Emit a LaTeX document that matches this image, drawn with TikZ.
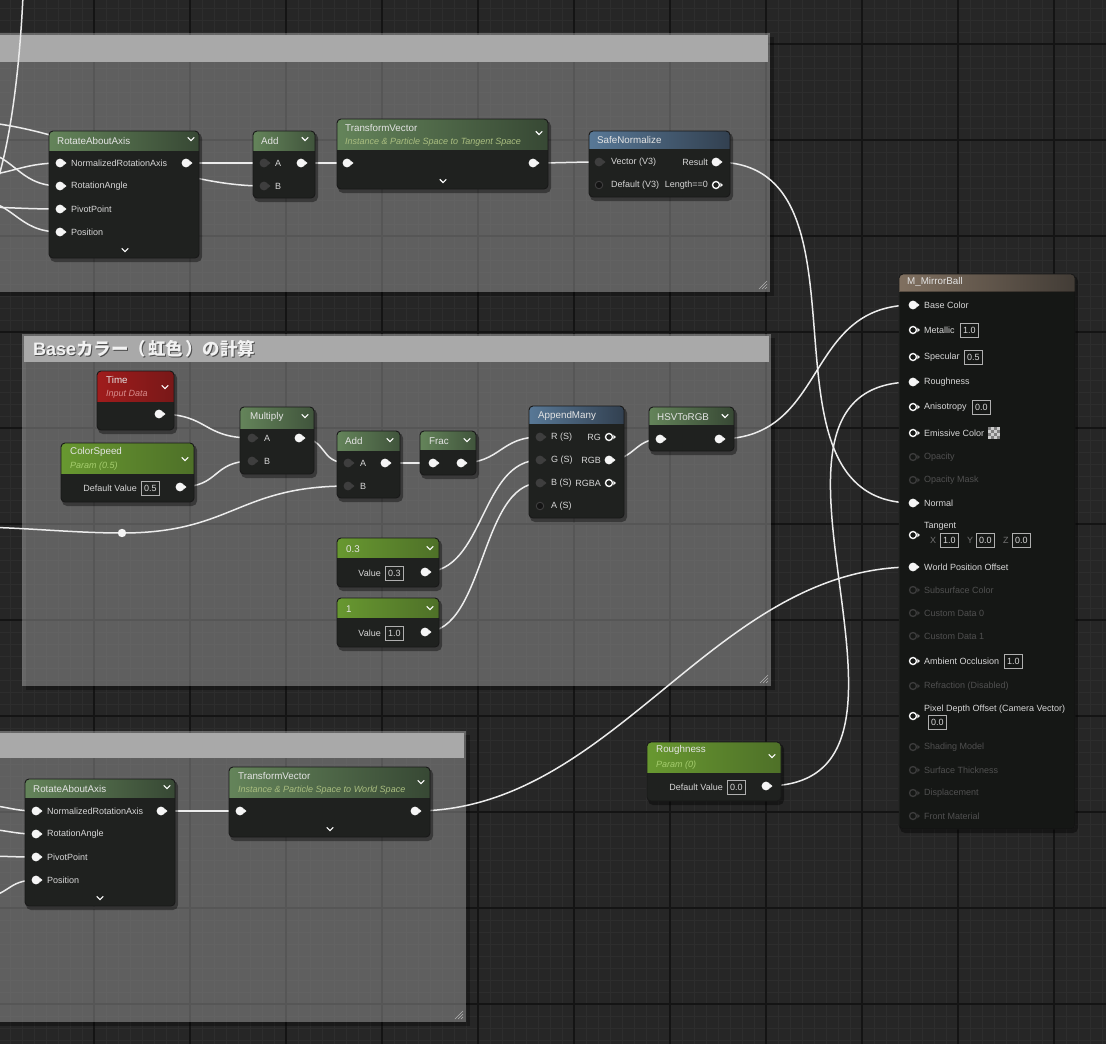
\documentclass[tikz,border=0pt]{standalone}
\usepackage{fontspec}
\setmainfont{Liberation Sans}
\newfontfamily\cjk{Noto Sans CJK JP}
\definecolor{bgc}{RGB}{38,38,38}
\definecolor{gminor}{RGB}{45,45,45}
\definecolor{gmajor}{RGB}{20,20,20}
\definecolor{cmthdr}{RGB}{169,169,169}
\definecolor{nbodyc}{RGB}{31,33,31}
\definecolor{wirec}{RGB}{236,236,236}
\definecolor{txt}{RGB}{215,215,215}
\definecolor{ttltxt}{RGB}{228,228,228}
\definecolor{dimtxt}{RGB}{80,80,80}
\definecolor{xyztxt}{RGB}{115,115,115}
\definecolor{boxc}{RGB}{175,175,175}
\definecolor{pinw}{RGB}{245,245,245}
\definecolor{pind}{RGB}{62,62,62}
\definecolor{pinx}{RGB}{60,60,60}
\definecolor{fnL}{RGB}{100,132,90}
\definecolor{fnR}{RGB}{55,72,52}
\definecolor{parL}{RGB}{104,152,48}
\definecolor{parM}{RGB}{48,74,26}
\definecolor{parR}{RGB}{78,112,40}
\definecolor{timL}{RGB}{160,28,28}
\definecolor{timM}{RGB}{88,16,16}
\definecolor{timR}{RGB}{120,24,24}
\definecolor{bluL}{RGB}{88,120,150}
\definecolor{bluR}{RGB}{50,64,80}
\definecolor{mbL}{RGB}{128,112,96}
\definecolor{mbR}{RGB}{66,60,54}
\definecolor{subgrn}{RGB}{170,190,128}
\definecolor{subpar}{RGB}{165,205,110}
\definecolor{subred}{RGB}{215,140,140}
\tikzset{
  nbody/.style={fill=nbodyc, rounded corners=4pt, inner sep=0pt, outer sep=0pt, draw=none},
  nborder/.style={draw=black!90, line width=0.9pt},
  wire/.style={draw=wirec, line width=1.5pt},
  lbl/.style={font=\fontsize{9}{10}\selectfont, text=txt, inner sep=0pt, anchor=west},
  lblr/.style={lbl, anchor=east},
  dimlbl/.style={lbl, text=dimtxt},
  ttl/.style={font=\fontsize{9.8}{11}\selectfont, text=ttltxt, inner sep=0pt, anchor=west},
  sublbl/.style={font=\fontsize{9}{10}\selectfont\itshape, inner sep=0pt, anchor=west},
  vbx/.style={draw=boxc, line width=0.8pt, inner xsep=2.6pt, inner ysep=0pt, minimum height=14pt, text=txt, font=\fontsize{9}{10}\selectfont, anchor=west},
  chv/.style={draw=white, line width=1.2pt},
}
% node: name, x1, y1, x2, y2, header bottom, left, middle, right
\newcommand\uen[9]{%
  \fill[black,opacity=0.4,rounded corners=5pt] (#2+1,#3+2) rectangle (#4+3,#5+4);
  \node[nbody, minimum width=#4-#2, minimum height=#5-#3] (#1) at ({(#2+#4)/2},{(#3+#5)/2}) {};
  \begin{scope}
    \clip[rounded corners=4pt] (#2,#3) rectangle (#4,#5);
    \shade[left color=#7, middle color=#8, right color=#9] (#2,#3) rectangle (#4,#6);
  \end{scope}
  \draw[nborder, rounded corners=4pt] (#2,#3) rectangle (#4,#5);
}
\newcommand\chev[2]{\draw[chv] (#1-3.2,#2-1.6) -- (#1,#2+1.6) -- (#1+3.2,#2-1.6);}
\newcommand\pinF[1]{\begin{scope}[shift={(#1)}]\fill[pinw] (0,0) circle (4.4pt);\fill[pinw] (3.6,-2.4) -- (6.5,0) -- (3.6,2.4) -- cycle;\end{scope}}
\newcommand\pinH[1]{\begin{scope}[shift={(#1)}]\draw[pinw, line width=1.4pt] (0,0) circle (3.5pt);\fill[pinw] (4.4,-2.3) -- (6.8,0) -- (4.4,2.3) -- cycle;\end{scope}}
\newcommand\pinD[1]{\begin{scope}[shift={(#1)}]\fill[pind] (0,0) circle (4.4pt);\fill[pind] (3.6,-2.4) -- (6.5,0) -- (3.6,2.4) -- cycle;\end{scope}}
\newcommand\pinK[1]{\begin{scope}[shift={(#1)}]\fill[black!92] (0,0) circle (4.4pt);\draw[pind, line width=1pt] (0,0) circle (3.8pt);\end{scope}}
\newcommand\pinX[1]{\begin{scope}[shift={(#1)}]\draw[pinx, line width=1.3pt] (0,0) circle (3.5pt);\fill[pinx] (4.4,-2.3) -- (6.8,0) -- (4.4,2.3) -- cycle;\end{scope}}
\newcommand\wire[3]{\draw[wire] (#1) .. controls +(#3,0) and +(-#3,0) .. (#2);}
\newcommand\hatch[2]{\draw[white!70!black, line width=0.6pt] (#1,#2-8) -- (#1-8,#2) (#1,#2-5) -- (#1-5,#2) (#1,#2-2) -- (#1-2,#2);}
\begin{document}
\begin{tikzpicture}[x=1pt,y=-1pt]
\useasboundingbox (0,0) rectangle (1106,1044);
\clip (0,0) rectangle (1106,1044);
% ---------- background grid ----------
\fill[bgc] (0,0) rectangle (1106,1044);
\foreach \x in {10,22,...,1102} \draw[gminor, line width=0.8pt] (\x,0) -- (\x,1044);
\foreach \y in {8,20,...,1040} \draw[gminor, line width=0.8pt] (0,\y) -- (1106,\y);
\foreach \x in {-2,94,...,1054} \draw[gmajor, line width=1.6pt] (\x,0) -- (\x,1044);
\foreach \y in {44,140,...,1004} \draw[gmajor, line width=1.6pt] (0,\y) -- (1106,\y);
% ---------- comment boxes ----------
\fill[black,opacity=0.3] (-5,37) rectangle (774,296);
\fill[white,opacity=0.3] (-5,33) rectangle (770,292);
\fill[cmthdr] (-5,35) rectangle (768,62);
\hatch{767}{289}
\fill[black,opacity=0.3] (26,338) rectangle (775,690);
\fill[white,opacity=0.3] (22,334) rectangle (771,686);
\fill[cmthdr] (24,336) rectangle (769,362);
\hatch{768}{683}
\node[anchor=west, inner sep=0pt, text=black, opacity=0.55, font=\fontsize{18}{20}\selectfont\bfseries] at (34,350) {Base{\cjk\fontsize{17.5}{20}\selectfont カラー（\kern2pt 虹色\kern2pt ）の計算}};
\node (cmt2title) [anchor=west, inner sep=0pt, text=white!95!black, font=\fontsize{18}{20}\selectfont\bfseries] at (33,349) {Base{\cjk\fontsize{17.5}{20}\selectfont カラー（\kern2pt 虹色\kern2pt ）の計算}};
\fill[black,opacity=0.3] (-5,735) rectangle (470,1026);
\fill[white,opacity=0.3] (-5,731) rectangle (466,1022);
\fill[cmthdr] (-5,733) rectangle (464,758);
\hatch{463}{1019}
% ---------- pin coordinates ----------
\coordinate (raa1nra) at (60,163);
\coordinate (raa1ra) at (60,186);
\coordinate (raa1pp) at (60,209);
\coordinate (raa1pos) at (60,232);
\coordinate (raa1out) at (186,163);
\coordinate (add1a) at (264,163);
\coordinate (add1b) at (264,186);
\coordinate (add1out) at (301,163);
\coordinate (tv1in) at (347,163);
\coordinate (tv1out) at (533,163);
\coordinate (snvec) at (599,162);
\coordinate (sndef) at (599,185);
\coordinate (snres) at (716,162);
\coordinate (snlen) at (716,185);
\coordinate (timeout) at (159,414);
\coordinate (csout) at (180,487);
\coordinate (mula) at (252,438);
\coordinate (mulb) at (252,461);
\coordinate (mulout) at (299,438);
\coordinate (add2a) at (348,463);
\coordinate (add2b) at (348,486);
\coordinate (add2out) at (385,463);
\coordinate (fracin) at (433,463);
\coordinate (fracout) at (461,463);
\coordinate (amr) at (540,437);
\coordinate (amg) at (540,460);
\coordinate (amb) at (540,483);
\coordinate (ama) at (540,506);
\coordinate (amrg) at (609,437);
\coordinate (amrgb) at (609,460);
\coordinate (amrgba) at (609,483);
\coordinate (hsvin) at (660,439);
\coordinate (hsvout) at (719,439);
\coordinate (cAout) at (425,572);
\coordinate (cBout) at (425,632);
\coordinate (rrt) at (122,533);
\coordinate (raa2nra) at (36,811);
\coordinate (raa2ra) at (36,834);
\coordinate (raa2pp) at (36,857);
\coordinate (raa2pos) at (36,880);
\coordinate (raa2out) at (161,811);
\coordinate (tv2in) at (240,811);
\coordinate (tv2out) at (415,811);
\coordinate (rpout) at (766,786);
\coordinate (mbbase) at (913,305);
\coordinate (mbmetal) at (913,330);
\coordinate (mbspec) at (913,357);
\coordinate (mbrough) at (913,382);
\coordinate (mbaniso) at (913,407);
\coordinate (mbemis) at (913,433);
\coordinate (mbopac) at (913,457);
\coordinate (mbopm) at (913,480);
\coordinate (mbnormal) at (913,503);
\coordinate (mbtan) at (913,535);
\coordinate (mbwpo) at (913,567);
\coordinate (mbssc) at (913,590);
\coordinate (mbcd0) at (913,613);
\coordinate (mbcd1) at (913,636);
\coordinate (mbao) at (913,661);
\coordinate (mbrefr) at (913,686);
\coordinate (mbpdo) at (913,716);
\coordinate (mbsm) at (913,747);
\coordinate (mbst) at (913,770);
\coordinate (mbdisp) at (913,793);
\coordinate (mbfm) at (913,816);
% off-screen sources
\coordinate (srcV) at (23,-4);
\coordinate (srcVe) at (-6,192);
\coordinate (srcB) at (-40,121);
\coordinate (src1) at (-30,176);
\coordinate (src2) at (-30,150);
\coordinate (src3) at (-30,207);
\coordinate (src4) at (-30,199);
\coordinate (srcR) at (-30,527);
\coordinate (src5) at (-20,805);
\coordinate (src6) at (-20,829);
\coordinate (src7) at (-20,856);
\coordinate (src8) at (-20,897);
% ---------- wires ----------
\draw[wire] (srcV) .. controls (20,60) and (12,140) .. (srcVe);
\draw[wire] (srcB) .. controls (60,121) and (160,186) .. (add1b);
\wire{src1}{raa1nra}{40}
\wire{src2}{raa1ra}{45}
\wire{src3}{raa1pp}{40}
\wire{src4}{raa1pos}{45}
\wire{raa1out}{add1a}{30}
\wire{add1out}{tv1in}{20}
\wire{tv1out}{snvec}{25}
\wire{snres}{mbnormal}{170}
\wire{srcR}{rrt}{50}
\wire{rrt}{add2b}{110}
\wire{timeout}{mula}{50}
\wire{csout}{mulb}{40}
\wire{mulout}{add2a}{30}
\wire{add2out}{fracin}{20}
\wire{fracout}{amr}{40}
\wire{cAout}{amg}{60}
\wire{cBout}{amb}{60}
\wire{amrgb}{hsvin}{25}
\wire{hsvout}{mbbase}{110}
\wire{rpout}{mbrough}{200}
\wire{src5}{raa2nra}{25}
\wire{src6}{raa2ra}{25}
\wire{src7}{raa2pp}{25}
\wire{src8}{raa2pos}{30}
\wire{raa2out}{tv2in}{30}
\wire{tv2out}{mbwpo}{200}
% ---------- top group nodes ----------
\uen{raa1}{49}{131}{199}{258}{150}{fnL}{fnL!80!fnR}{fnR}
\node[ttl] at (57,141) {RotateAboutAxis};
\chev{191}{139}\chev{125}{250}
\node[lbl] at (71,163) {NormalizedRotationAxis};
\node[lbl] at (71,186) {RotationAngle};
\node[lbl] at (71,209) {PivotPoint};
\node[lbl] at (71,232) {Position};
\pinF{raa1nra}\pinF{raa1ra}\pinF{raa1pp}\pinF{raa1pos}\pinF{raa1out}
\uen{add1}{253}{131}{315}{198}{150}{fnL}{fnR}{fnR!80!fnL}
\node[ttl] at (261,141) {Add};
\chev{305}{139}
\node[lbl] at (275,163) {A};
\node[lbl] at (275,186) {B};
\pinD{add1a}\pinD{add1b}\pinF{add1out}
\uen{tv1}{337}{119}{548}{189}{149}{fnL}{fnL!55!fnR}{fnR}
\node[ttl] at (345,128) {TransformVector};
\node[sublbl, text=subgrn] at (345,142) {Instance \& Particle Space to Tangent Space};
\chev{539}{133}\chev{443}{181}
\pinF{tv1in}\pinF{tv1out}
\uen{sn}{589}{131}{730}{197}{148}{bluL}{bluL!60!bluR}{bluR}
\node[ttl] at (597,140) {SafeNormalize};
\node[lbl] at (611,162) {Vector (V3)};
\node[lbl] at (611,185) {Default (V3)};
\node[lblr] at (708,162) {Result};
\node[lblr] at (708,185) {Length==0};
\pinD{snvec}\pinK{sndef}\pinF{snres}\pinH{snlen}
% ---------- middle group nodes ----------
\uen{time}{97}{371}{174}{430}{401}{timL}{timM}{timR}
\node[ttl] at (106,380) {Time};
\node[sublbl, text=subred] at (106,394) {Input Data};
\chev{165}{387}
\pinF{timeout}
\uen{cspeed}{61}{443}{194}{502}{473}{parL}{parM}{parR}
\node[ttl] at (70,452) {ColorSpeed};
\node[sublbl, text=subpar] at (70,466) {Param (0.5)};
\chev{185}{459}
\node[lblr] at (137,488) {Default Value};
\node[vbx] (csval) at (141,488) {0.5};
\pinF{csout}
\uen{mul}{240}{407}{314}{474}{428}{fnL}{fnR}{fnR!80!fnL}
\node[ttl] at (250,417) {Multiply};
\chev{305}{416}
\node[lbl] at (264,438) {A};
\node[lbl] at (264,461) {B};
\pinD{mula}\pinD{mulb}\pinF{mulout}
\uen{add2}{337}{431}{400}{498}{450}{fnL}{fnR}{fnR!80!fnL}
\node[ttl] at (345,441) {Add};
\chev{390}{440}
\node[lbl] at (360,463) {A};
\node[lbl] at (360,486) {B};
\pinD{add2a}\pinD{add2b}\pinF{add2out}
\uen{frac}{420}{431}{476}{475}{449}{fnL}{fnR}{fnR!80!fnL}
\node[ttl] at (429,441) {Frac};
\chev{467}{440}
\pinF{fracin}\pinF{fracout}
\uen{am}{529}{406}{624}{518}{423}{bluL}{bluL!60!bluR}{bluR}
\node[ttl] at (538,416) {AppendMany};
\node[lbl] at (551,437) {R (S)};
\node[lbl] at (551,460) {G (S)};
\node[lbl] at (551,483) {B (S)};
\node[lbl] at (551,506) {A (S)};
\node[lblr] at (601,437) {RG};
\node[lblr] at (601,460) {RGB};
\node[lblr] at (601,483) {RGBA};
\pinD{amr}\pinD{amg}\pinD{amb}\pinK{ama}
\pinH{amrg}\pinF{amrgb}\pinH{amrgba}
\uen{hsv}{649}{407}{734}{451}{424}{fnL}{fnL!50!fnR}{fnR}
\node[ttl] at (657,417) {HSVToRGB};
\chev{725}{416}
\pinF{hsvin}\pinF{hsvout}
\uen{cA}{337}{538}{439}{587}{557}{parL}{parM}{parR}
\node[ttl] at (346,549) {0.3};
\chev{430}{548}
\node[lblr] at (381,573) {Value};
\node[vbx] (cAval) at (385,573) {0.3};
\pinF{cAout}
\uen{cB}{337}{598}{439}{647}{617}{parL}{parM}{parR}
\node[ttl] at (346,609) {1};
\chev{430}{608}
\node[lblr] at (381,633) {Value};
\node[vbx] (cBval) at (385,633) {1.0};
\pinF{cBout}
\fill[pinw] (rrt) circle (4.2pt);
% ---------- bottom group nodes ----------
\uen{raa2}{25}{779}{175}{906}{797}{fnL}{fnL!80!fnR}{fnR}
\node[ttl] at (33,789) {RotateAboutAxis};
\chev{167}{787}\chev{100}{898}
\node[lbl] at (47,811) {NormalizedRotationAxis};
\node[lbl] at (47,834) {RotationAngle};
\node[lbl] at (47,857) {PivotPoint};
\node[lbl] at (47,880) {Position};
\pinF{raa2nra}\pinF{raa2ra}\pinF{raa2pp}\pinF{raa2pos}\pinF{raa2out}
\uen{tv2}{229}{767}{430}{837}{797}{fnL}{fnL!55!fnR}{fnR}
\node[ttl] at (238,776) {TransformVector};
\node[sublbl, text=subgrn] at (238,790) {Instance \& Particle Space to World Space};
\chev{421}{782}\chev{330}{829}
\pinF{tv2in}\pinF{tv2out}
% ---------- roughness param ----------
\uen{rparam}{647}{742}{781}{801}{772}{parL}{parM}{parR}
\node[ttl] at (656,750) {Roughness};
\node[sublbl, text=subpar] at (656,765) {Param (0)};
\chev{772}{756}
\node[lblr] at (723,787) {Default Value};
\node[vbx] (rpval) at (727,787) {0.0};
\pinF{rpout}
% ---------- material node ----------
\uen{mb}{899}{274}{1075}{829}{291}{mbL}{mbL!60!mbR}{mbR}
\begin{scope}
\clip[rounded corners=4pt] (899,274) rectangle (1075,829);
\fill[black,opacity=0.3] (899.5,291) rectangle (1074.5,828.5);
\end{scope}
\node[ttl] at (907,282) {M\_MirrorBall};
\node[lbl] at (924,305) {Base Color};
\node[lbl] at (924,330) {Metallic};
\node[vbx] (vmetal) at (960,330) {1.0};
\node[lbl] at (924,357) {Specular};
\node[vbx] (vspec) at (964,357) {0.5};
\node[lbl] at (924,382) {Roughness};
\node[lbl] at (924,407) {Anisotropy};
\node[vbx] (vaniso) at (972,407) {0.0};
\node[lbl] at (924,433) {Emissive Color};
\begin{scope}[shift={(988,427)}]
\fill[white!80!black] (0,0) rectangle (12,12);
\foreach \a/\b in {0/0,6/0,3/3,9/3,0/6,6/6,3/9,9/9} \fill[white!50!black] (\a,\b) rectangle +(3,3);
\end{scope}
\node[dimlbl] at (924,457) {Opacity};
\node[dimlbl] at (924,480) {Opacity Mask};
\node[lbl] at (924,503) {Normal};
\node[lbl] at (924,526) {Tangent};
\node[lbl, text=xyztxt] at (930,540) {X};
\node[vbx] (vtx) at (940,540) {1.0};
\node[lbl, text=xyztxt] at (967,540) {Y};
\node[vbx] (vty) at (976,540) {0.0};
\node[lbl, text=xyztxt] at (1003,540) {Z};
\node[vbx] (vtz) at (1012,540) {0.0};
\node[lbl] at (924,567) {World Position Offset};
\node[dimlbl] at (924,590) {Subsurface Color};
\node[dimlbl] at (924,613) {Custom Data 0};
\node[dimlbl] at (924,636) {Custom Data 1};
\node[lbl] at (924,661) {Ambient Occlusion};
\node[vbx] (vao) at (1004,661) {1.0};
\node[dimlbl] at (924,686) {Refraction (Disabled)};
\node[lbl] at (924,709) {Pixel Depth Offset (Camera Vector)};
\node[vbx] (vpdo) at (928,722) {0.0};
\node[dimlbl] at (924,747) {Shading Model};
\node[dimlbl] at (924,770) {Surface Thickness};
\node[dimlbl] at (924,793) {Displacement};
\node[dimlbl] at (924,816) {Front Material};
\pinF{mbbase}\pinH{mbmetal}\pinH{mbspec}\pinF{mbrough}\pinH{mbaniso}\pinH{mbemis}
\pinX{mbopac}\pinX{mbopm}\pinF{mbnormal}\pinH{mbtan}\pinF{mbwpo}
\pinX{mbssc}\pinX{mbcd0}\pinX{mbcd1}\pinH{mbao}\pinX{mbrefr}\pinH{mbpdo}
\pinX{mbsm}\pinX{mbst}\pinX{mbdisp}\pinX{mbfm}
\end{tikzpicture}
\end{document}
